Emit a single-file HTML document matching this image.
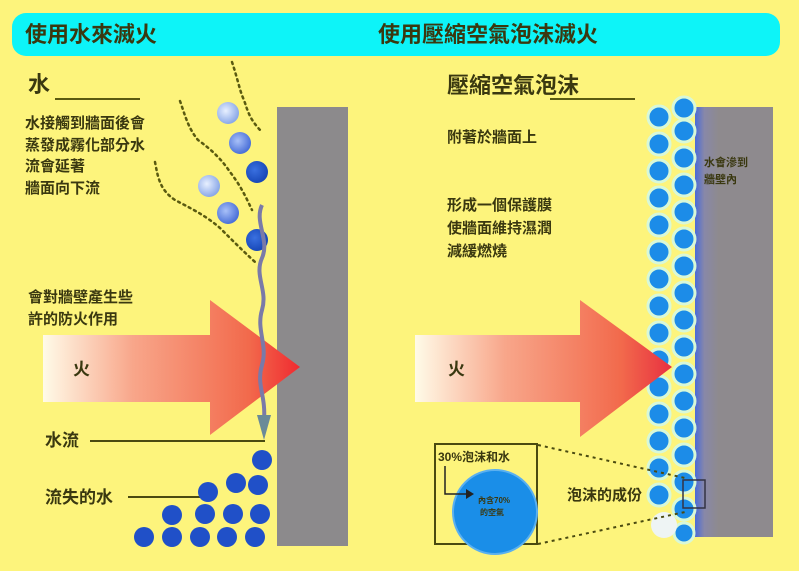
<!DOCTYPE html>
<html><head><meta charset="utf-8"><style>
html,body{margin:0;padding:0;background:#fdf47c;}
svg{display:block;}
text{font-family:"Liberation Sans","Noto Sans CJK TC",sans-serif;fill:#3a3810;font-weight:bold;}
</style></head><body>
<svg width="799" height="571" viewBox="0 0 799 571" xmlns="http://www.w3.org/2000/svg">
<defs>
<linearGradient id="fire2" gradientUnits="userSpaceOnUse" x1="415" x2="672" y1="0" y2="0">
<stop offset="0" stop-color="#fffbe8"/><stop offset="0.35" stop-color="#f8a68a"/><stop offset="0.8" stop-color="#f26a4c"/><stop offset="1" stop-color="#e83040"/>
</linearGradient>
<linearGradient id="fire1" gradientUnits="userSpaceOnUse" x1="43" x2="300" y1="0" y2="0">
<stop offset="0" stop-color="#fffbe8"/><stop offset="0.35" stop-color="#f8a68a"/><stop offset="0.8" stop-color="#f26a4c"/><stop offset="1" stop-color="#f02a30"/>
</linearGradient>
<linearGradient id="wall2" x1="0" x2="1" y1="0" y2="0">
<stop offset="0" stop-color="#4a6ad8"/><stop offset="0.12" stop-color="#8888a8"/><stop offset="0.3" stop-color="#8e8a8e"/><stop offset="1" stop-color="#8e8a8e"/>
</linearGradient>
<radialGradient id="light" cx="0.4" cy="0.4" r="0.6"><stop offset="0" stop-color="#e8f0ff"/><stop offset="1" stop-color="#8aa8e8"/></radialGradient>
<radialGradient id="mid" cx="0.4" cy="0.4" r="0.6"><stop offset="0" stop-color="#a8c0f8"/><stop offset="1" stop-color="#4a70d8"/></radialGradient>
<radialGradient id="dark" cx="0.4" cy="0.4" r="0.6"><stop offset="0" stop-color="#3a70e0"/><stop offset="1" stop-color="#1848b8"/></radialGradient>
</defs>
<rect width="799" height="571" fill="#fdf47c"/>
<rect x="12" y="13" width="768" height="43" rx="14" fill="#0df4f8"/>
<text x="25" y="42" font-size="22">使用水來滅火</text>
<text x="378" y="42" font-size="22">使用壓縮空氣泡沫滅火</text>

<rect x="277" y="107" width="71" height="439" fill="#8c8a8c"/>
<text x="28" y="92" font-size="22">水</text>
<line x1="55" y1="99" x2="140" y2="99" stroke="#5a5a10" stroke-width="2"/>
<g font-size="15">
<text x="25" y="128">水接觸到牆面後會</text>
<text x="25" y="150">蒸發成霧化部分水</text>
<text x="25" y="171">流會延著</text>
<text x="25" y="193">牆面向下流</text>
<text x="28" y="302">會對牆壁產生些</text>
<text x="28" y="324">許的防火作用</text>
</g>
<g fill="none" stroke="#5a5a10" stroke-width="2.5" stroke-dasharray="2 4" stroke-linecap="round">
<path d="M232 62 C238 80 240 92 244 100 C248 112 250 120 262 132"/>
<path d="M180 101 C185 115 188 128 198 140 C212 150 222 160 230 172 C240 185 245 195 252 210"/>
<path d="M155 162 C158 178 160 190 175 200 C190 208 205 215 220 228 C232 240 242 250 255 262"/>
</g>
<circle cx="228" cy="113" r="11" fill="url(#light)"/>
<circle cx="240" cy="143" r="11" fill="url(#mid)"/>
<circle cx="257" cy="172" r="11" fill="url(#dark)"/>
<circle cx="209" cy="186" r="11" fill="url(#light)"/>
<circle cx="228" cy="213" r="11" fill="url(#mid)"/>
<circle cx="257" cy="240" r="11" fill="url(#dark)"/>
<path d="M43 335 H210 V300 L300 367 L210 435 V402 H43 Z" fill="url(#fire1)"/>
<path d="M262 205 C254 222 270 240 262 258 C254 276 268 290 262 310 C256 330 268 345 262 365 C256 385 266 395 264 420" fill="none" stroke="#7a7aa8" stroke-width="4"/>
<path d="M257 415 L271 415 L264 440 Z" fill="#6a8a98"/>
<text x="73" y="375" font-size="17" font-weight="normal">火</text>
<text x="45" y="446" font-size="17">水流</text>
<line x1="90" y1="441" x2="265" y2="441" stroke="#4a4a10" stroke-width="2"/>
<text x="45" y="503" font-size="17">流失的水</text>
<line x1="128" y1="497" x2="200" y2="497" stroke="#4a4a10" stroke-width="2"/>
<g fill="#2050c8">
<circle cx="262" cy="460" r="10"/>
<circle cx="236" cy="483" r="10"/><circle cx="258" cy="485" r="10"/><circle cx="208" cy="492" r="10"/>
<circle cx="172" cy="515" r="10"/><circle cx="205" cy="514" r="10"/><circle cx="233" cy="514" r="10"/><circle cx="260" cy="514" r="10"/>
<circle cx="144" cy="537" r="10"/><circle cx="172" cy="537" r="10"/><circle cx="200" cy="537" r="10"/><circle cx="227" cy="537" r="10"/><circle cx="255" cy="537" r="10"/>
</g>

<rect x="695" y="107" width="78" height="430" fill="url(#wall2)"/>
<text x="447" y="93" font-size="22" font-weight="normal">壓縮空氣泡沫</text>
<line x1="550" y1="99" x2="635" y2="99" stroke="#5a5a10" stroke-width="2"/>
<g font-size="15">
<text x="447" y="142">附著於牆面上</text>
<text x="447" y="210">形成一個保護膜</text>
<text x="447" y="233">使牆面維持濕潤</text>
<text x="447" y="256">減緩燃燒</text>
</g>
<text x="704" y="166" font-size="11">水會滲到</text>
<text x="704" y="183" font-size="11">牆壁內</text>
<g fill="#1c8ce8" stroke="#d8f8d8" stroke-width="3">
<circle cx="659" cy="117" r="11"/><circle cx="659" cy="144" r="11"/><circle cx="659" cy="171" r="11"/><circle cx="659" cy="198" r="11"/><circle cx="659" cy="225" r="11"/><circle cx="659" cy="252" r="11"/><circle cx="659" cy="279" r="11"/><circle cx="659" cy="306" r="11"/><circle cx="659" cy="333" r="11"/><circle cx="659" cy="360" r="11"/><circle cx="659" cy="387" r="11"/><circle cx="659" cy="414" r="11"/><circle cx="659" cy="441" r="11"/><circle cx="659" cy="468" r="11"/><circle cx="659" cy="495" r="11"/>
<circle cx="684" cy="108" r="11"/><circle cx="684" cy="131" r="11"/><circle cx="684" cy="158" r="11"/><circle cx="684" cy="185" r="11"/><circle cx="684" cy="212" r="11"/><circle cx="684" cy="239" r="11"/><circle cx="684" cy="266" r="11"/><circle cx="684" cy="293" r="11"/><circle cx="684" cy="320" r="11"/><circle cx="684" cy="347" r="11"/><circle cx="684" cy="374" r="11"/><circle cx="684" cy="401" r="11"/><circle cx="684" cy="428" r="11"/><circle cx="684" cy="455" r="11"/><circle cx="684" cy="482" r="11"/><circle cx="684" cy="509" r="11"/><circle cx="684" cy="533" r="10"/>
</g>
<circle cx="664" cy="525" r="13" fill="#eef4f4"/>
<path d="M415 335 H580 V300 L672 367 L580 437 V402 H415 Z" fill="url(#fire2)"/>
<text x="448" y="375" font-size="17" font-weight="normal">火</text>
<rect x="435" y="444" width="102" height="100" fill="none" stroke="#4a4a10" stroke-width="2"/>
<text x="438" y="461" font-size="12" font-weight="normal">30%泡沫和水</text>
<circle cx="495" cy="512" r="42" fill="#1a8ee8" stroke="#5ab0f0" stroke-width="2"/>
<path d="M445 466 V494 H468" fill="none" stroke="#222" stroke-width="1.5"/>
<path d="M466 489 L474 494 L466 499 Z" fill="#222"/>
<text x="478" y="503" font-size="8" font-weight="normal" fill="#3a60b0">內含70%</text>
<text x="480" y="515" font-size="8" font-weight="normal" fill="#3a60b0">的空氣</text>
<g stroke="#4a4a10" stroke-width="2" stroke-dasharray="3 4">
<line x1="538" y1="445" x2="685" y2="478"/>
<line x1="538" y1="544" x2="685" y2="512"/>
</g>
<text x="567" y="500" font-size="15" font-weight="normal">泡沫的成份</text>
<rect x="683" y="480" width="22" height="28" fill="none" stroke="#334" stroke-width="1.5"/>
</svg>
</body></html>
